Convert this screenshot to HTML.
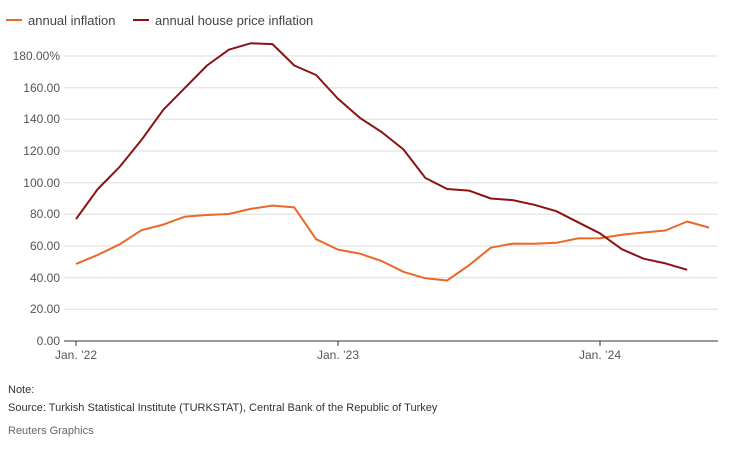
<!DOCTYPE html>
<html><head><meta charset="utf-8"><style>
body{margin:0;background:#fff;}
svg text{font-family:"Liberation Sans",sans-serif;}
</style></head><body>
<svg width="740" height="446" viewBox="0 0 740 446" xmlns="http://www.w3.org/2000/svg">
<line x1="6" y1="20" x2="22" y2="20" stroke="#e8692a" stroke-width="2"/>
<text x="28" y="25" font-size="13" fill="#444">annual inflation</text>
<line x1="133" y1="20" x2="149" y2="20" stroke="#8b1313" stroke-width="2"/>
<text x="155" y="25" font-size="13" fill="#444">annual house price inflation</text>
<g stroke="#ddd" stroke-width="1">
<line x1="64" x2="718" y1="309.3" y2="309.3"/><line x1="64" x2="718" y1="277.7" y2="277.7"/>
<line x1="64" x2="718" y1="246" y2="246"/><line x1="64" x2="718" y1="214.3" y2="214.3"/>
<line x1="64" x2="718" y1="182.7" y2="182.7"/><line x1="64" x2="718" y1="151" y2="151"/>
<line x1="64" x2="718" y1="119.3" y2="119.3"/><line x1="64" x2="718" y1="87.7" y2="87.7"/>
<line x1="64" x2="718" y1="56" y2="56"/>
</g>
<line x1="64" x2="718" y1="341" y2="341" stroke="#333" stroke-width="1"/>
<g stroke="#333"><line x1="76" x2="76" y1="341" y2="346"/><line x1="338" x2="338" y1="341" y2="346"/><line x1="600" x2="600" y1="341" y2="346"/></g>
<g font-size="12" fill="#555" text-anchor="end">
<text x="60" y="345">0.00</text><text x="60" y="313">20.00</text><text x="60" y="282">40.00</text>
<text x="60" y="250">60.00</text><text x="60" y="218">80.00</text><text x="60" y="187">100.00</text>
<text x="60" y="155">120.00</text><text x="60" y="123">140.00</text><text x="60" y="92">160.00</text>
<text x="60" y="60">180.00%</text>
</g>
<g font-size="12" fill="#555" text-anchor="middle">
<text x="76" y="359">Jan. ’22</text><text x="338" y="359">Jan. ’23</text><text x="600" y="359">Jan. ’24</text>
</g>
<polyline id="inf" fill="none" stroke="#e8692a" stroke-width="2" stroke-linejoin="round"/>
<polyline id="hp" fill="none" stroke="#8b1313" stroke-width="2" stroke-linejoin="round"/>
<text x="8" y="393" font-size="11" fill="#333">Note:</text>
<text x="8" y="411" font-size="11" fill="#333">Source: Turkish Statistical Institute (TURKSTAT), Central Bank of the Republic of Turkey</text>
<text x="8" y="434" font-size="11" fill="#666">Reuters Graphics</text>
</svg>
<script>
function pts(a){return a.map((v,i)=>(76+i*21.83).toFixed(1)+","+(341-v*285/180).toFixed(1)).join(" ");}
document.getElementById("inf").setAttribute("points",pts([48.7,54.4,61.1,70.0,73.5,78.6,79.6,80.2,83.4,85.5,84.4,64.3,57.7,55.2,50.5,43.7,39.6,38.2,47.8,58.9,61.5,61.4,62.0,64.8,64.9,67.1,68.5,69.8,75.5,71.6]));
document.getElementById("hp").setAttribute("points",pts([77,96,110,127,146,160,174,184,188,187.5,174,168,153,141,132,121,103,96,95,90,89,86,82,75,68,58,52,49,45]));
</script>
</body></html>
